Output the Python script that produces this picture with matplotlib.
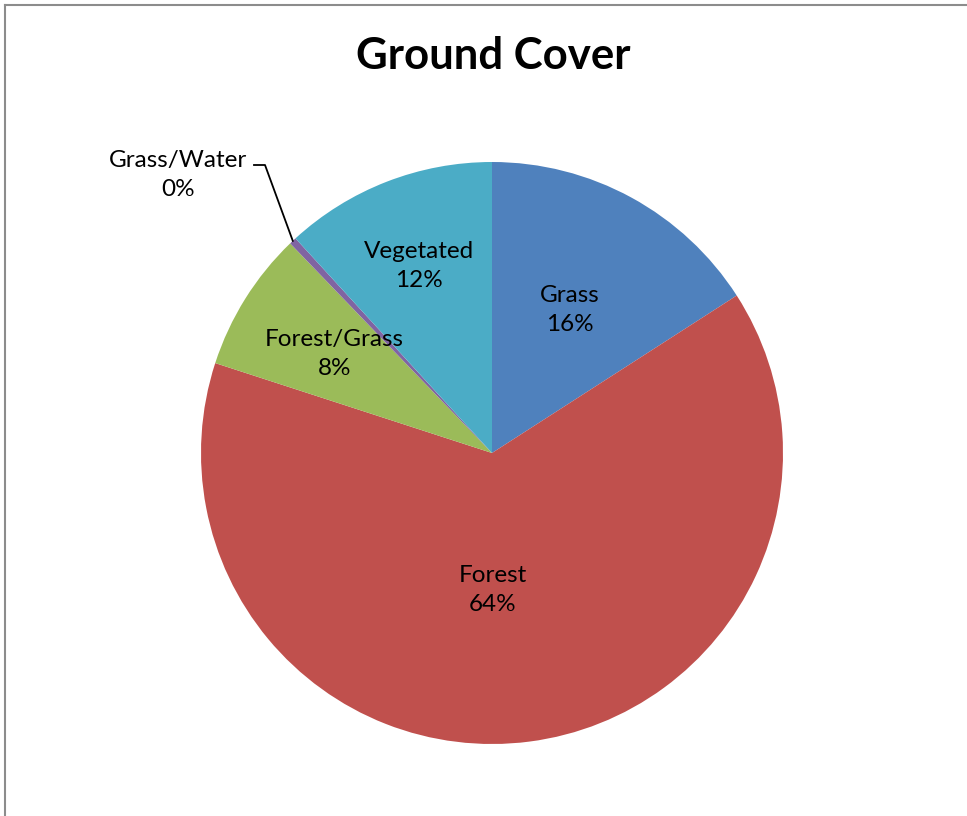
import numpy as np
import matplotlib
matplotlib.use("Agg")
import matplotlib.pyplot as plt
from matplotlib.lines import Line2D

plt.rcParams['font.family'] = ['Lato', 'DejaVu Sans']

categories = ["Grass", "Forest", "Forest/Grass", "Grass/Water", "Vegetated"]
values = [15.9, 64.1, 7.8, 0.4, 11.8]
shown_pct = ["16%", "64%", "8%", "0%", "12%"]
colors = ["#4F81BD", "#C0504D", "#9BBB59", "#8064A2", "#4BACC6"]

W, H = 967, 816
fig = plt.figure(figsize=(W / 100, H / 100), dpi=100)

# pie centre and radius in pixels
cx, cy, r = 492, 453, 291
ax = fig.add_axes([(cx - r) / W, (H - cy - r) / H, 2 * r / W, 2 * r / H])
wedges, _ = ax.pie(values, colors=colors, startangle=90, counterclock=False,
                   radius=1, wedgeprops=dict(linewidth=0))
ax.set_xlim(-1, 1)
ax.set_ylim(-1, 1)
ax.set_aspect('auto')
ax.axis('off')

fs = 17.5
ls = 1.5

# label radius per slice (fraction of radius) and angle tweaks
label_r = [0.56, 0.47, 0.64, None, 0.69]
label_da = [0, 7, 0, None, 0]
for i, w in enumerate(wedges):
    if label_r[i] is None:
        continue
    ang = np.deg2rad((w.theta1 + w.theta2) / 2 - label_da[i])
    x = label_r[i] * np.cos(ang)
    y = label_r[i] * np.sin(ang)
    ax.text(x, y, categories[i] + "\n" + shown_pct[i], ha='center', va='center',
            fontsize=fs, linespacing=ls)

# Grass/Water label outside with leader line
w = wedges[3]
ang = np.deg2rad((w.theta1 + w.theta2) / 2)
px, py = np.cos(ang), np.sin(ang)
tx, ty = (178 - cx) / r, (cy - 175) / r
ax.text(tx, ty, categories[3] + "\n" + shown_pct[3], ha='center', va='center',
        fontsize=fs, linespacing=ls)
ax.plot([(254 - cx) / r, (265 - cx) / r, px], [(cy - 165) / r, (cy - 165) / r, py],
        color='black', lw=1.3, clip_on=False)

fig.text(493 / W, 1 - 56 / H, "Ground Cover", ha='center', va='center',
         fontsize=31.5, fontweight='bold')

# chart border (top and left visible)
fig.add_artist(Line2D([4.5 / W, 4.5 / W], [0, 1 - 4.5 / H], color='#8c8c8c', lw=1.5))
fig.add_artist(Line2D([4.5 / W, 1], [1 - 4.5 / H, 1 - 4.5 / H], color='#8c8c8c', lw=1.5))

fig.savefig("out.png", dpi=100)
